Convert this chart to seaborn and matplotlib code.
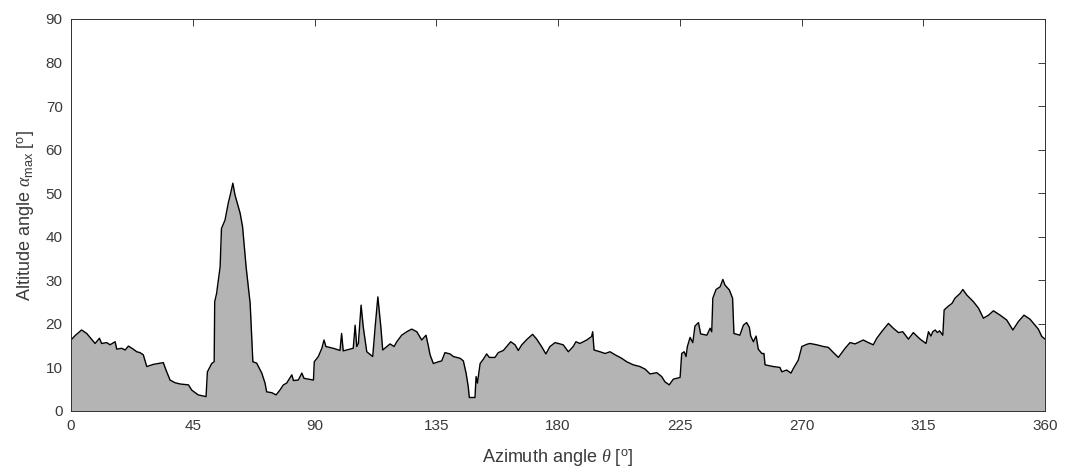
import matplotlib
matplotlib.use("Agg")
import matplotlib.pyplot as plt
import seaborn as sns
import numpy as np
import pandas as pd

# Horizon profile: maximum altitude angle of obstructions versus azimuth
azimuth = [
    0, 1.5, 3.9, 5.8, 8.9, 10.5, 11.3, 13.2, 14.4, 16.3, 16.9, 18.7, 20.0, 21.2,
    23.0, 24.3, 25.5, 26.7, 28.0, 30.4, 34.1, 35.1, 36.6, 38.4, 40.3, 43.4, 44.6,
    47.0, 49.9, 50.4, 52.0, 52.9, 53.1, 53.8, 55.1, 55.6, 56.9, 58.1, 59.0, 59.8,
    60.6, 62.5, 63.4, 64.7, 66.2, 67.2, 68.6, 70.5, 71.7, 72.3, 74.2, 75.8, 77.2,
    78.5, 79.7, 81.6, 82.2, 84.0, 85.3, 86.1, 89.6, 89.9, 91.4, 92.7, 93.5, 94.2,
    96.9, 99.4, 100.0, 100.6, 104.3, 105.0, 105.6, 106.2, 107.2, 108.0, 109.3,
    111.5, 112.4, 113.4, 114.5, 115.2, 117.9, 119.4, 120.4, 122.2, 124.1, 125.9,
    127.8, 129.6, 131.2, 132.1, 132.7, 133.9, 135.8, 137.0, 138.2, 140.1, 141.3,
    143.8, 145.0, 146.0, 146.8, 147.2, 149.3, 149.7, 150.2, 151.2, 152.4, 153.6,
    154.6, 156.7, 157.9, 159.8, 161.0, 162.5, 164.1, 165.3, 166.6, 168.6, 170.6,
    172.1, 173.9, 175.5, 177.0, 178.9, 181.9, 183.8, 185.6, 186.6, 188.1, 190.6,
    192.4, 192.8, 193.3, 195.5, 197.4, 199.2, 201.1, 203.5, 205.4, 207.8, 210.3,
    212.2, 214.0, 216.5, 218.3, 219.5, 221.1, 222.6, 225.1, 225.7, 226.6, 227.3,
    227.8, 228.8, 229.8, 230.6, 231.9, 232.7, 235.0, 236.2, 236.8, 237.2, 238.4,
    239.9, 240.9, 241.7, 243.3, 244.5, 245.0, 247.2, 248.5, 249.7, 250.7, 251.2,
    252.2, 253.2, 254.0, 255.3, 256.1, 256.5, 259.6, 262.0, 262.7, 264.5, 266.1,
    267.0, 268.8, 270.1, 271.9, 273.1, 275.6, 278.1, 279.9, 281.8, 283.6, 286.1,
    287.9, 289.8, 292.8, 294.7, 296.5, 297.8, 299.6, 302.1, 303.9, 305.8, 307.4,
    309.5, 311.3, 313.8, 316.0, 316.9, 317.8, 318.5, 319.4, 320.2, 321.0, 322.2,
    322.7, 324.3, 325.6, 326.7, 328.6, 329.6, 331.1, 333.5, 335.4, 337.2, 339.1,
    340.9, 343.4, 345.8, 348.1, 350.1, 352.2, 354.4, 356.3, 357.5, 358.8, 360.0,
]
altitude = [
    16.3, 17.3, 18.6, 17.8, 15.5, 16.7, 15.5, 15.7, 15.2, 15.9, 14.2, 14.4, 14.0, 14.9,
    14.2, 13.6, 13.4, 12.9, 10.2, 10.7, 11.1, 9.4, 7.1, 6.5, 6.2, 6.0, 4.8,
    3.7, 3.3, 9.0, 10.9, 11.3, 25.1, 27.0, 33.1, 41.9, 43.8, 47.7, 50.0, 52.3,
    49.6, 45.4, 42.3, 33.1, 24.7, 11.3, 11.0, 8.7, 6.4, 4.4, 4.2, 3.7, 4.8,
    6.0, 6.4, 8.3, 7.0, 7.1, 8.7, 7.5, 7.1, 11.3, 12.5, 14.4, 16.3, 14.8,
    14.4, 13.9, 17.8, 13.8, 14.4, 19.7, 14.8, 15.5, 24.3, 19.3, 13.6,
    12.5, 19.3, 26.2, 19.3, 14.0, 15.4, 14.8, 15.9, 17.4, 18.2, 18.8,
    18.2, 16.3, 17.4, 14.8, 12.9, 10.9, 11.3, 11.5, 13.4, 13.1, 12.5,
    12.1, 11.5, 8.7, 5.6, 3.1, 3.1, 7.9, 6.4, 10.9, 11.9, 13.1,
    12.3, 12.3, 13.4, 13.9, 14.8, 15.9, 15.2, 13.9, 15.2, 16.5, 17.6,
    16.5, 14.8, 13.1, 14.8, 15.7, 15.2, 13.6, 14.8, 15.9, 15.5, 16.3,
    17.1, 18.2, 14.0, 13.6, 13.2, 13.6, 12.9, 12.1, 11.3, 10.6, 10.2,
    9.6, 8.5, 8.8, 7.9, 6.7, 6.0, 7.3, 7.7, 13.2, 13.6, 12.5,
    14.8, 16.9, 15.7, 19.5, 20.3, 17.7, 17.4, 19.0, 18.2, 25.9, 27.9,
    28.5, 30.2, 28.9, 27.8, 25.9, 17.8, 17.4, 19.7, 20.3, 19.2, 17.2,
    15.9, 17.2, 14.2, 13.2, 13.2, 10.6, 10.2, 10.0, 9.0, 9.4, 8.7,
    9.8, 11.7, 14.8, 15.3, 15.5, 15.2, 14.8, 14.6, 13.4, 12.3, 14.4,
    15.7, 15.4, 16.3, 15.7, 15.2, 16.7, 18.2, 20.1, 19.0, 18.0, 18.2,
    16.5, 18.0, 16.5, 15.5, 18.2, 17.2, 18.2, 18.6, 18.0, 18.4, 17.4,
    23.2, 24.1, 24.7, 25.9, 27.0, 27.9, 26.6, 25.1, 23.6, 21.3, 22.0,
    23.0, 22.0, 20.9, 18.6, 20.5, 22.0, 21.1, 19.7, 18.8, 17.1, 16.5,
]
x_ticks = [0, 45, 90, 135, 180, 225, 270, 315, 360]
y_ticks = [0, 10, 20, 30, 40, 50, 60, 70, 80, 90]

df = pd.DataFrame({"azimuth": azimuth, "altitude": altitude})

sns.set_theme(style="white")
plt.rcParams["font.family"] = ["Liberation Sans", "DejaVu Sans"]
plt.rcParams["mathtext.fontset"] = "custom"
plt.rcParams["mathtext.rm"] = "Liberation Sans"
plt.rcParams["mathtext.it"] = "Liberation Serif:italic"

ink = "#3a3a3a"
fig = plt.figure(figsize=(10.65, 4.71), dpi=100)
ax = fig.add_axes([0.0667, 0.1274, 0.9146, 0.8323])

ax.fill_between(df["azimuth"], df["altitude"], 0, color="#b4b4b4", lw=0)
sns.lineplot(data=df, x="azimuth", y="altitude", ax=ax, color="black",
             lw=1.0, sort=False, estimator=None)

ax.set_xlim(0, 360)
ax.set_ylim(0, 90)
ax.set_xticks(x_ticks)
ax.set_yticks(y_ticks)
ax.tick_params(direction="in", length=5, width=0.7, colors=ink,
               labelsize=11, top=True, right=True, labeltop=False,
               labelright=False, pad=6)
for s in ax.spines.values():
    s.set_visible(True)
    s.set_color("#303030")
    s.set_linewidth(0.7)

ax.set_xlabel(r"Azimuth angle $\theta$ [$^{\rm o}$]", fontsize=13, color=ink, labelpad=10)
ax.set_ylabel(r"Altitude angle $\alpha_{\rm max}$ [$^{\rm o}$]", fontsize=13, color=ink, labelpad=6)

fig.savefig("out.png", dpi=100, facecolor="white")
